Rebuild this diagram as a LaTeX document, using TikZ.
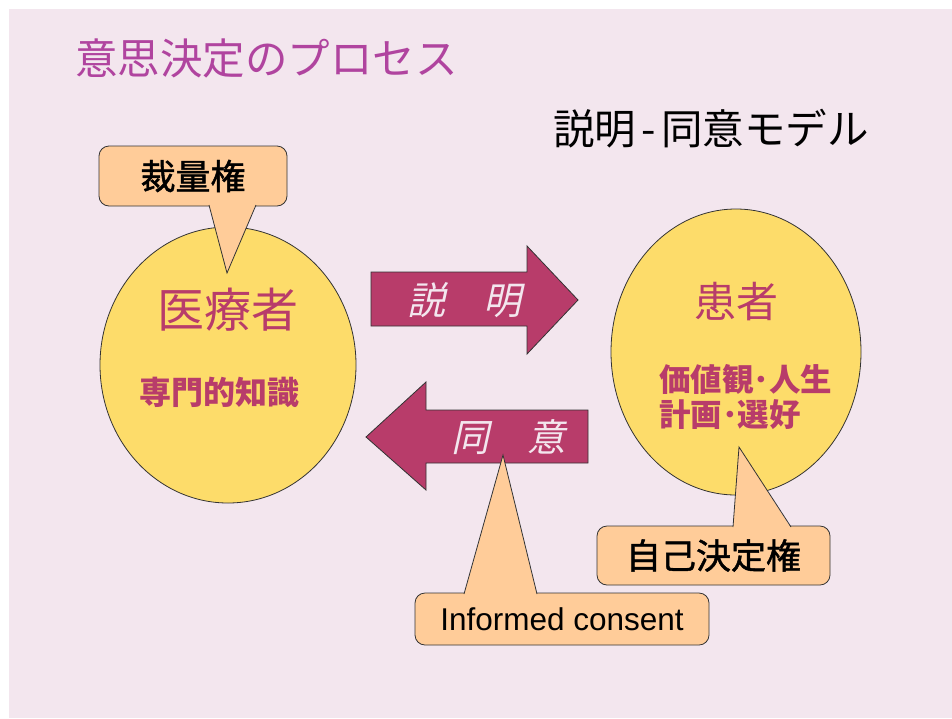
\documentclass[tikz,border=0pt]{standalone}
\usepackage{fontspec}
\usetikzlibrary{shapes.geometric}
\newfontfamily\jp{Noto Sans CJK JP}
\newfontfamily\jpm[FakeBold=1.3]{Noto Sans CJK JP}
\newfontfamily\jpit[FakeSlant=0.22]{Noto Sans CJK JP}
\setmainfont{Liberation Sans}
\definecolor{bgpink}{HTML}{F3E6EE}
\definecolor{titlepurple}{HTML}{B0449F}
\definecolor{crimson}{HTML}{B83C6A}
\definecolor{ballyellow}{HTML}{FDDC6A}
\definecolor{calloutorange}{HTML}{FFCC99}
\definecolor{edge}{HTML}{333333}
\tikzset{
  ball/.style={ellipse, draw=edge, line width=0.8pt, fill=ballyellow, inner sep=0pt},
  callbox/.style={rectangle, rounded corners=10pt, draw=edge, line width=0.8pt, fill=calloutorange, inner sep=0pt},
  arrowbody/.style={draw=edge, line width=0.8pt, fill=crimson},
  arrowtext/.style={font=\jpit\fontsize{38}{40}\selectfont, text=bgpink, inner sep=0pt},
  redtext/.style={text=crimson, inner sep=0pt},
  calltext/.style={font=\jpm\fontsize{35}{38}\selectfont, inner sep=0pt},
}
\begin{document}
\begin{tikzpicture}[x=1pt,y=-1pt]
\useasboundingbox (0,0) rectangle (952,718);
\fill[white] (0,0) rectangle (952,718);
\fill[bgpink] (9,9) rectangle (952,718);

% titles
\node[anchor=west, text=titlepurple, inner sep=0pt, font=\jp\fontsize{42.5}{44}\selectfont] (title) at (75,58) {意思決定のプロセス};
\node[anchor=west, text=black, inner sep=0pt, font=\jp\fontsize{41.5}{44}\selectfont] (model) at (553,129) {説明\makebox[0.6em]{-}同意モデル};

% ellipses
\node[ball, minimum width=256pt, minimum height=276pt] (doc) at (228,365) {};
\node[ball, minimum width=250pt, minimum height=286pt] (pat) at (736,352) {};

% arrows
\path[arrowbody] (371,272) -- (527,272) -- (527,246) -- (578,300) -- (527,354) -- (527,326) -- (371,326) -- cycle;
\node[arrowtext] (expl) at (464,300) {説　明};
\path[arrowbody] (588,410) -- (426,410) -- (426,382) -- (366,437) -- (426,490) -- (426,463) -- (588,463) -- cycle;
\node[arrowtext] (agree) at (508,437) {同　意};

% ellipse texts
\node[redtext, font=\jp\fontsize{47}{49}\selectfont] (doclabel) at (228,310) {医療者};
\node[redtext, font=\jp\bfseries\fontsize{32}{34}\selectfont] (docknow) at (219,392) {専門的知識};
\node[redtext, font=\jp\fontsize{42}{44}\selectfont] (patlabel) at (736,302) {患者};
\node[redtext, anchor=west, align=left, font=\jp\bfseries\fontsize{31.5}{35}\selectfont] (patvals) at (659,397) {価値観･人生\\計画･選好};

% callouts
\node[callbox, minimum width=188pt, minimum height=60pt] (disc) at (193,176) {};
\fill[calloutorange] (209,204) -- (227,273) -- (256,204) -- cycle;
\draw[edge, line width=0.8pt] (209,205) -- (227,273) -- (256,205);
\node[calltext] (disctext) at (disc) {裁量権};

\node[callbox, minimum width=233pt, minimum height=59pt] (self) at (713.5,555.5) {};
\fill[calloutorange] (733,528) -- (739,447) -- (791,528) -- cycle;
\draw[edge, line width=0.8pt] (733,527) -- (739,447) -- (791,527);
\node[calltext] (selftext) at (self) {自己決定権};

\node[callbox, minimum width=294pt, minimum height=52pt] (ic) at (562,619) {};
\fill[calloutorange] (464,595) -- (503,455) -- (537,595) -- cycle;
\draw[edge, line width=0.8pt] (464,594) -- (503,455) -- (537,594);
\node[font=\fontsize{31.5}{34}\selectfont, inner sep=0pt] (ictext) at (ic) {Informed consent};
\end{tikzpicture}
\end{document}
